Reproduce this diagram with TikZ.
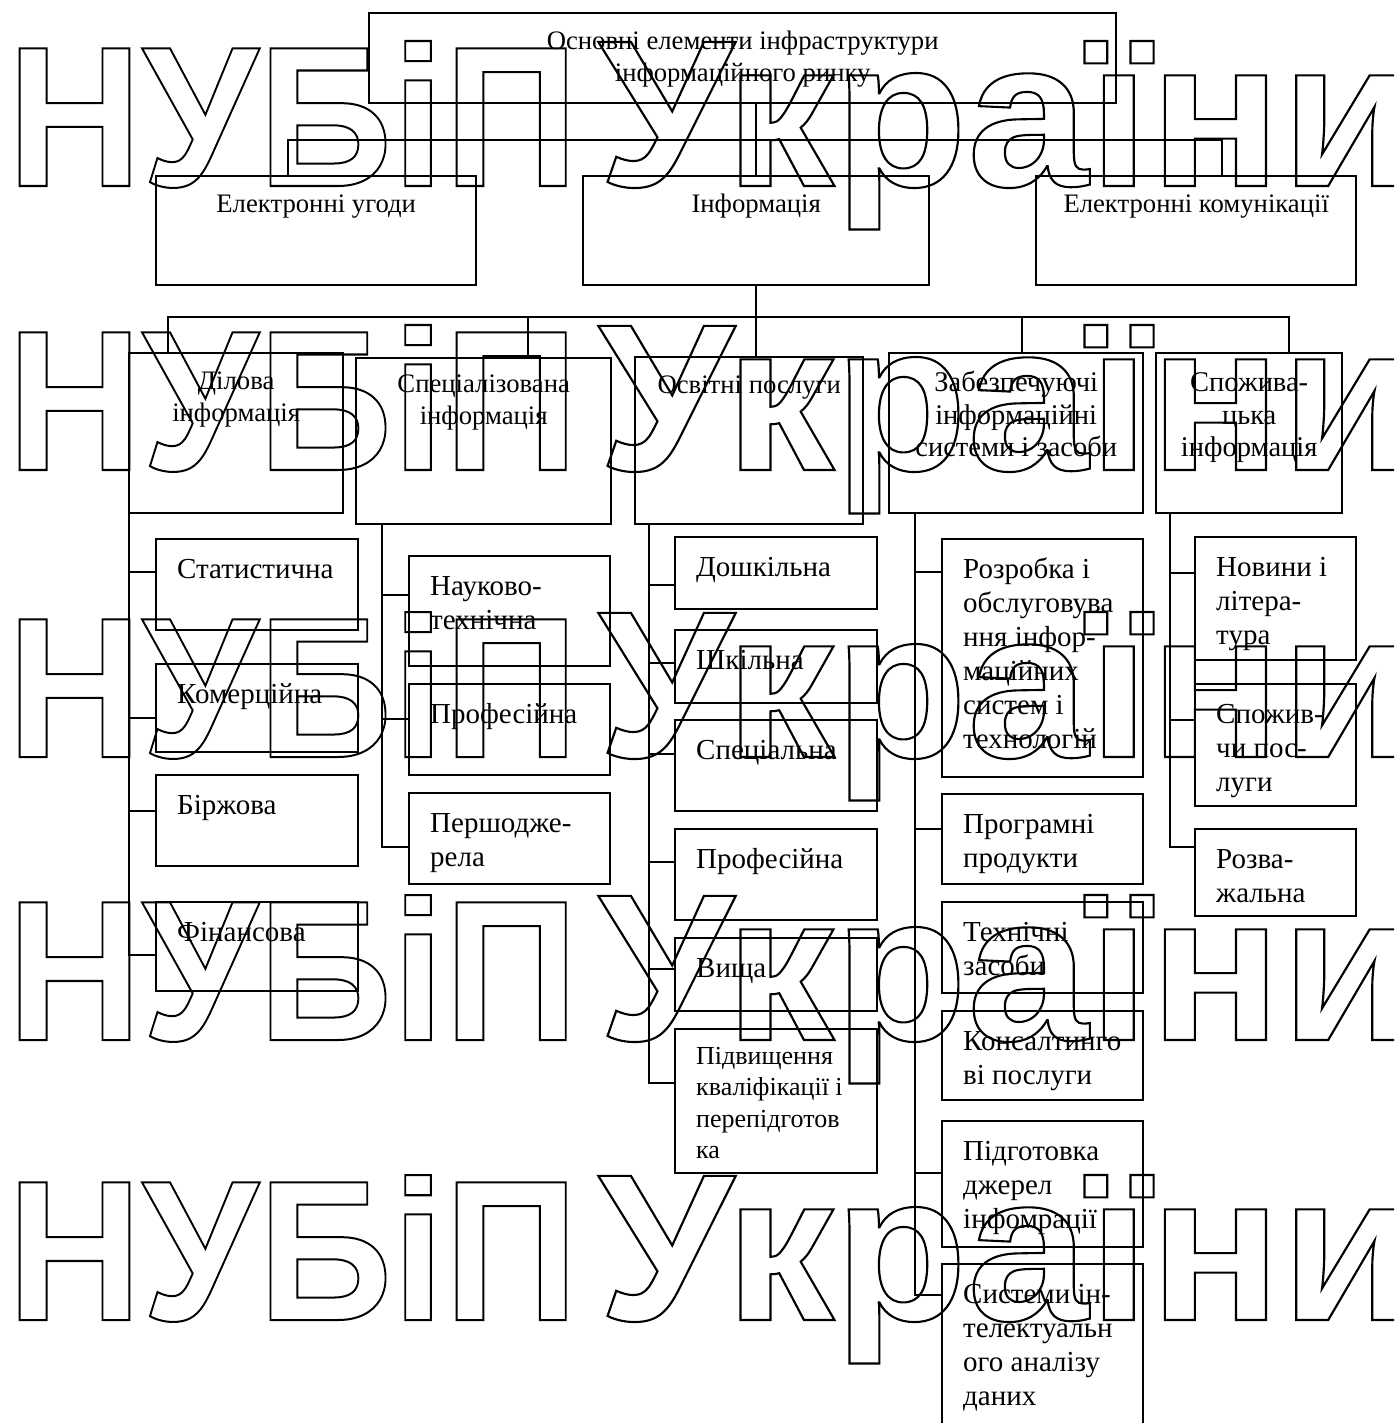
\documentclass[tikz,border=0pt]{standalone}
\usepackage{fontspec}
\setmainfont{Liberation Serif}
\newfontfamily\wmfont{Liberation Sans}
\usetikzlibrary{calc}
\tikzset{
  box/.style={draw, line width=2.4pt, inner sep=0pt, anchor=north west},
  ln/.style={line width=2.4pt},
  up/.style={anchor=north, inner sep=0pt, align=center, font=\fontsize{26.7}{32}\selectfont},
  upb/.style={anchor=north, inner sep=0pt, align=center, font=\fontsize{28.5}{32.5}\selectfont},
  lo/.style={anchor=north west, inner sep=0pt, align=left, font=\fontsize{29}{34}\selectfont},
  los/.style={anchor=north west, inner sep=0pt, align=left, font=\fontsize{26}{31.5}\selectfont},
  wm/.style={anchor=base west, inner sep=0pt},
}
\newcommand\bx[5]{\node[box,minimum width={#4-#2},minimum height={#5-#3}] (#1) at (#2,#3) {};}
\newcommand\lbl[2]{\node[lo] (#1T) at ([shift={(22,16)}]#1.north west) {\strut #2};}
\newcommand\stub[3]{\draw[ln] (#1 |- 0,#3) -- (#2.west |- 0,#3);}
\newcommand\wmtext[3]{\resizebox{#1pt}{#2pt}{\wmfont\bfseries\fontsize{200}{210}\selectfont\special{pdf:literal direct 1 Tr 2 w}#3\special{pdf:literal direct 0 Tr}}}
\newcommand\wmrow[2]{%
  \node[wm] (#1a) at (7,#2) {\wmtext{571}{145}{НУБіП}};
  \node[wm] (#1b) at (598,#2) {\wmtext{817}{145}{України}};}
\begin{document}
\begin{tikzpicture}[x=1pt,y=-1pt]
\useasboundingbox (0,0) rectangle (1394,1423);
\clip (0,0) rectangle (1394,1423);
% watermark
\wmrow{wa}{186}
\wmrow{wb}{470}
\wmrow{wc}{757}
\wmrow{wd}{1040}
\wmrow{we}{1320}
% top levels
\bx{top}{368}{12}{1115}{102}
\node[up] (topT) at ([yshift=-14.6pt]top.north) {\strut Основні елементи інфраструктури\\інформаційного ринку};
\bx{ugody}{155}{175}{475}{284}
\bx{info}{582}{175}{928}{284}
\bx{komun}{1035}{175}{1355}{284}
\node[up] (ugodyT) at ([yshift=-14.6pt]ugody.north) {\strut Електронні угоди};
\node[up] (infoT) at ([yshift=-14.6pt]info.north) {\strut Інформація};
\node[up] (komunT) at ([yshift=-14.6pt]komun.north) {\strut Електронні комунікації};
\bx{dil}{128}{352}{342}{512}
\bx{spec}{355}{357}{610}{523}
\bx{osv}{634}{356}{862}{523}
\bx{zab}{888}{352}{1142}{512}
\bx{spozh}{1155}{352}{1341}{512}
\node[up] (dilT) at ([yshift=-14.6pt]dil.north) {\strut Ділова\\інформація};
\node[up] (specT) at ([yshift=-12.6pt]spec.north) {\strut Спеціалізована\\інформація};
\node[up] (osvT) at ([yshift=-14.6pt]osv.north) {\strut Освітні послуги};
\node[upb] (zabT) at ([yshift=-17pt]zab.north) {\strut Забезпечуючі\\інформаційні\\системи і засоби};
\node[upb] (spozhT) at ([yshift=-17pt]spozh.north) {\strut Спожива-\\цька\\інформація};
% column 1
\bx{st}{155}{538}{357}{629}
\bx{kom}{155}{663}{357}{751}
\bx{bir}{155}{774}{357}{865}
\bx{fin}{155}{901}{357}{990}
\lbl{st}{Статистична}
\lbl{kom}{Комерційна}
\lbl{bir}{Біржова}
\lbl{fin}{Фінансова}
% column 2
\bx{nauk}{408}{555}{609}{665}
\bx{prof}{408}{683}{609}{774}
\bx{persh}{408}{792}{609}{883}
\lbl{nauk}{Науково-\\технічна}
\lbl{prof}{Професійна}
\lbl{persh}{Першодже-\\рела}
% column 3
\bx{dosh}{674}{536}{876}{608}
\bx{shk}{674}{629}{876}{702}
\bx{spc}{674}{719}{876}{810}
\bx{prf}{674}{828}{876}{919}
\bx{vys}{674}{937}{876}{1010}
\bx{pidv}{674}{1028}{876}{1172}
\lbl{dosh}{Дошкільна}
\lbl{shk}{Шкільна}
\lbl{spc}{Спеціальна}
\lbl{prf}{Професійна}
\lbl{vys}{Вища}
\node[los] (pidvT) at ([shift={(22,14)}]pidv.north west) {\strut Підвищення\\кваліфікації і\\перепідготов\\ка};
% column 4
\bx{rozr}{941}{538}{1142}{776}
\bx{progr}{941}{793}{1142}{883}
\bx{tech}{941}{901}{1142}{992}
\bx{kons}{941}{1010}{1142}{1099}
\bx{pidg}{941}{1120}{1142}{1246}
\bx{sys}{941}{1263}{1142}{1445}
\lbl{rozr}{Розробка і\\обслуговува\\ння інфор-\\маційних\\систем і\\технологій}
\lbl{progr}{Програмні\\продукти}
\lbl{tech}{Технічні\\засоби}
\lbl{kons}{Консалтинго\\ві послуги}
\lbl{pidg}{Підготовка\\джерел\\інфомрації}
\lbl{sys}{Системи ін-\\телектуальн\\ого аналізу\\даних}
% column 5
\bx{nov}{1194}{536}{1355}{659}
\bx{spp}{1194}{683}{1355}{805}
\bx{rozv}{1194}{828}{1355}{915}
\lbl{nov}{Новини і\\літера-\\тура}
\lbl{spp}{Спожив-\\чи пос-\\луги}
\lbl{rozv}{Розва-\\жальна}
% connectors top
\draw[ln] (top.south -| info.north) -- (info.north);
\coordinate (b1L) at (288,140);
\coordinate (b1R) at (1222,140);
\draw[ln] (ugody.north -| b1L) -- (b1L) -- (b1R) -- (komun.north -| b1R);
\draw[ln] (info.south) -- (osv.north -| info.south);
\coordinate (b2L) at (168,317);
\coordinate (b2R) at (1289,317);
\coordinate (b2a) at (528,317);
\coordinate (b2c) at (1022,317);
\draw[ln] (dil.north -| b2L) -- (b2L) -- (b2R) -- (spozh.north -| b2R);
\draw[ln] (b2a) -- (spec.north -| b2a);
\draw[ln] (b2c) -- (zab.north -| b2c);
% trunks
\coordinate (t1) at (129,955);
\draw[ln] (dil.south -| t1) -- (t1) -- (fin.west |- t1);
\stub{t1}{st}{572}
\stub{t1}{kom}{718}
\stub{t1}{bir}{811}
\coordinate (t2) at (382,847);
\draw[ln] (spec.south -| t2) -- (t2) -- (persh.west |- t2);
\stub{t2}{nauk}{595}
\stub{t2}{prof}{719}
\coordinate (t3) at (649,1083);
\draw[ln] (osv.south -| t3) -- (t3) -- (pidv.west |- t3);
\stub{t3}{dosh}{585}
\stub{t3}{shk}{663}
\stub{t3}{spc}{754}
\stub{t3}{prf}{862}
\stub{t3}{vys}{969}
\coordinate (t4) at (915,1295);
\draw[ln] (zab.south -| t4) -- (t4) -- (sys.west |- t4);
\stub{t4}{rozr}{572}
\stub{t4}{progr}{829}
\stub{t4}{pidg}{1173}
\coordinate (t5) at (1170,847);
\draw[ln] (spozh.south -| t5) -- (t5) -- (rozv.west |- t5);
\stub{t5}{nov}{573}
\stub{t5}{spp}{720}
\end{tikzpicture}
\end{document}
